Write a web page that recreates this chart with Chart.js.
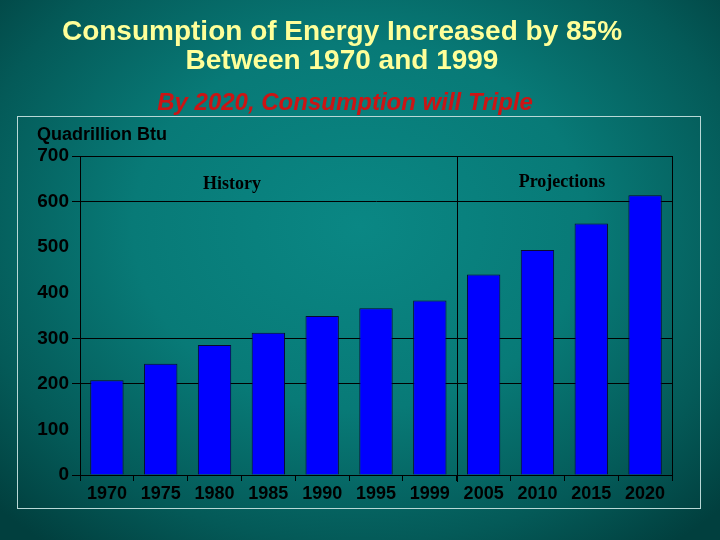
<!DOCTYPE html>
<html>
<head>
<meta charset="utf-8">
<script src="https://cdn.jsdelivr.net/npm/chart.js@4/dist/chart.umd.min.js"></script>
<style>
html, body { margin: 0; padding: 0; }
body {
    width: 720px; height: 540px; overflow: hidden;
    background: radial-gradient(ellipse 70% 75% at 50% 42%, #0a8784 0%, #087a77 45%, #045a58 78%, #013f3e 100%);
}
#wrap { position: relative; width: 720px; height: 540px; }
</style>
</head>
<body>
<div id="wrap"><canvas id="chartEnergy" width="720" height="540"></canvas></div>
<script>
// 数据
var years = ['1970', '1975', '1980', '1985', '1990', '1995', '1999', '2005', '2010', '2015', '2020'];
var consumption = [208, 244, 285, 312, 349, 366, 383, 440, 494, 552, 614];
var yTicks = [0, 100, 200, 300, 400, 500, 600, 700];
var shownGrid = [0, 200, 300, 600, 700];

var titleLines = ['Consumption of Energy Increased by 85%', 'Between 1970 and 1999'];
var subTitle = 'By 2020, Consumption will Triple';
var unitLabel = 'Quadrillion Btu';
var periodLabels = ['History', 'Projections'];

var sans = '"Liberation Sans", Arial, sans-serif';

// 标题、边框、分隔线
var decorPlugin = {
    id: 'decor',
    beforeDraw: function (chart) {
        var c = chart.ctx;
        c.save();
        c.strokeStyle = '#b8d8d6';
        c.lineWidth = 1;
        c.strokeRect(17.5, 116.5, 683, 392);
        c.restore();
    },
    afterDraw: function (chart) {
        var c = chart.ctx;
        var a = chart.chartArea;
        var x = chart.scales.x;
        c.save();
        // 绘图区边框
        c.strokeStyle = '#000';
        c.lineWidth = 1;
        c.strokeRect(Math.round(a.left) + 0.5, Math.round(a.top) + 0.5, Math.round(a.right - a.left), Math.round(a.bottom - a.top));
        // 历史/预测分隔线
        var divX = Math.round((x.getPixelForValue(6) + x.getPixelForValue(7)) / 2) + 0.5;
        c.beginPath();
        c.moveTo(divX, a.top);
        c.lineTo(divX, a.bottom + 7);
        c.stroke();

        c.textAlign = 'center';
        c.textBaseline = 'middle';
        c.fillStyle = '#ffff99';
        c.font = 'bold 28px ' + sans;
        c.fillText(titleLines[0], 342, 32);
        c.fillText(titleLines[1], 342, 61);

        c.fillStyle = '#cc1414';
        c.font = 'italic bold 24px ' + sans;
        c.fillText(subTitle, 345, 103);

        c.fillStyle = '#000';
        c.textAlign = 'left';
        c.font = 'bold 18px ' + sans;
        c.fillText(unitLabel, 37, 135);

        c.textAlign = 'center';
        c.font = 'bold 18px "Liberation Serif", "Times New Roman", serif';
        c.fillText(periodLabels[0], 232, 184);
        c.fillText(periodLabels[1], 562, 182);
        c.restore();
    }
};

new Chart(document.getElementById('chartEnergy').getContext('2d'), {
    type: 'bar',
    data: {
        labels: years,
        datasets: [{
            label: unitLabel,
            data: consumption,
            backgroundColor: '#0000ff',
            borderColor: '#0a0a30',
            borderWidth: 1,
            borderSkipped: 'bottom',
            barPercentage: 0.62,
            categoryPercentage: 1
        }]
    },
    options: {
        responsive: false,
        animation: false,
        layout: { padding: { left: 0, right: 48, top: 156, bottom: 35 } },
        plugins: {
            legend: { display: false },
            tooltip: { enabled: false }
        },
        scales: {
            y: {
                min: 0,
                max: 700,
                afterFit: function (s) { s.width = 80; },
                afterBuildTicks: function (s) {
                    s.ticks = yTicks.map(function (v) { return { value: v }; });
                },
                ticks: {
                    color: '#000',
                    padding: 3,
                    font: { family: sans, size: 19, weight: 'bold' }
                },
                grid: {
                    color: function (ctx) {
                        return shownGrid.indexOf(ctx.tick && ctx.tick.value) >= 0 ? '#000' : 'rgba(0,0,0,0)';
                    },
                    tickLength: 8
                },
                border: { display: true, color: '#000' }
            },
            x: {
                afterFit: function (s) { s.height = 30; },
                ticks: {
                    color: '#000',
                    padding: 2,
                    maxRotation: 0,
                    autoSkip: false,
                    font: { family: sans, size: 18, weight: 'bold' }
                },
                grid: {
                    offset: true,
                    drawOnChartArea: false,
                    color: '#000',
                    tickLength: 6
                },
                border: { display: true, color: '#000' }
            }
        }
    },
    plugins: [decorPlugin]
});
</script>
</body>
</html>
